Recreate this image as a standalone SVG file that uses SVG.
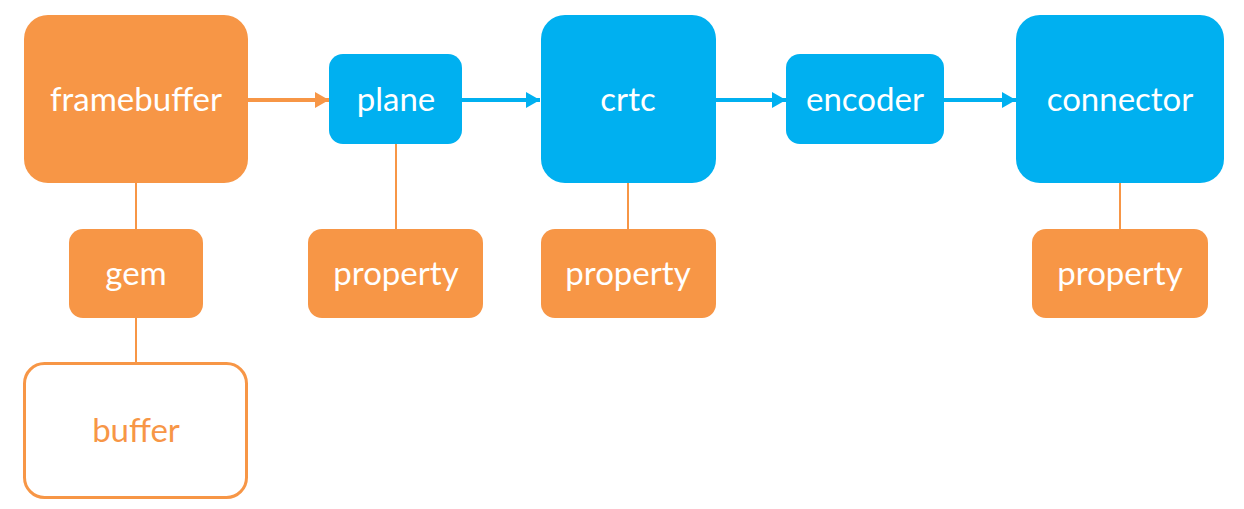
<svg xmlns="http://www.w3.org/2000/svg" width="1244" height="509" viewBox="0 0 1244 509">
  <style>
    .org { fill: #F79646; }
    .blu { fill: #00B0F0; }
    .hollow { fill: #FFFFFF; stroke: #F79646; stroke-width: 3; }
    .lbl { font-family: Lato, "Open Sans", "Liberation Sans", sans-serif; font-size: 33px; fill: #FFFFFF; text-anchor: middle; }
    .lbl-o { fill: #F79646; }
    .link { stroke: #F79646; stroke-width: 2; fill: none; }
    .flow-o { stroke: #F79646; stroke-width: 4; fill: none; }
    .flow-b { stroke: #00B0F0; stroke-width: 4; fill: none; }
  </style>
  <defs>
    <marker id="headO" markerUnits="userSpaceOnUse" markerWidth="14" markerHeight="16" refX="14" refY="8" orient="auto">
      <path d="M0,0 L14,8 L0,16 Z" fill="#F79646"/>
    </marker>
    <marker id="headB" markerUnits="userSpaceOnUse" markerWidth="14" markerHeight="16" refX="14" refY="8" orient="auto">
      <path d="M0,0 L14,8 L0,16 Z" fill="#00B0F0"/>
    </marker>
  </defs>

  <!-- connectors -->
  <g id="connectors">
    <line class="flow-o" x1="248" y1="100" x2="329" y2="100" marker-end="url(#headO)"/>
    <line class="flow-b" x1="462" y1="100" x2="540" y2="100" marker-end="url(#headB)"/>
    <line class="flow-b" x1="716" y1="100" x2="786" y2="100" marker-end="url(#headB)"/>
    <line class="flow-b" x1="944" y1="100" x2="1016" y2="100" marker-end="url(#headB)"/>
    <line class="link" x1="136" y1="183" x2="136" y2="229"/>
    <line class="link" x1="136" y1="318" x2="136" y2="362"/>
    <line class="link" x1="396" y1="144" x2="396" y2="229"/>
    <line class="link" x1="628" y1="183" x2="628" y2="229"/>
    <line class="link" x1="1120" y1="183" x2="1120" y2="229"/>
  </g>

  <g id="framebuffer">
    <rect class="org" x="24" y="15" width="224" height="168" rx="24"/>
    <text class="lbl" x="136" y="111">framebuffer</text>
  </g>
  <g id="plane">
    <rect class="blu" x="329" y="54" width="133" height="90" rx="14"/>
    <text class="lbl" x="396" y="111">plane</text>
  </g>
  <g id="crtc">
    <rect class="blu" x="541" y="15" width="175" height="168" rx="24"/>
    <text class="lbl" x="628" y="111">crtc</text>
  </g>
  <g id="encoder">
    <rect class="blu" x="786" y="54" width="158" height="90" rx="14"/>
    <text class="lbl" x="865" y="111">encoder</text>
  </g>
  <g id="connector">
    <rect class="blu" x="1016" y="15" width="208" height="168" rx="24"/>
    <text class="lbl" x="1120" y="111">connector</text>
  </g>
  <g id="gem">
    <rect class="org" x="69" y="229" width="134" height="89" rx="14"/>
    <text class="lbl" x="136" y="285">gem</text>
  </g>
  <g id="buffer">
    <rect class="hollow" x="24.5" y="363.5" width="222" height="134" rx="20"/>
    <text class="lbl lbl-o" x="136" y="442">buffer</text>
  </g>
  <g id="plane-property">
    <rect class="org" x="308" y="229" width="175" height="89" rx="14"/>
    <text class="lbl" x="396" y="285">property</text>
  </g>
  <g id="crtc-property">
    <rect class="org" x="541" y="229" width="175" height="89" rx="14"/>
    <text class="lbl" x="628" y="285">property</text>
  </g>
  <g id="connector-property">
    <rect class="org" x="1032" y="229" width="176" height="89" rx="14"/>
    <text class="lbl" x="1120" y="285">property</text>
  </g>
</svg>
